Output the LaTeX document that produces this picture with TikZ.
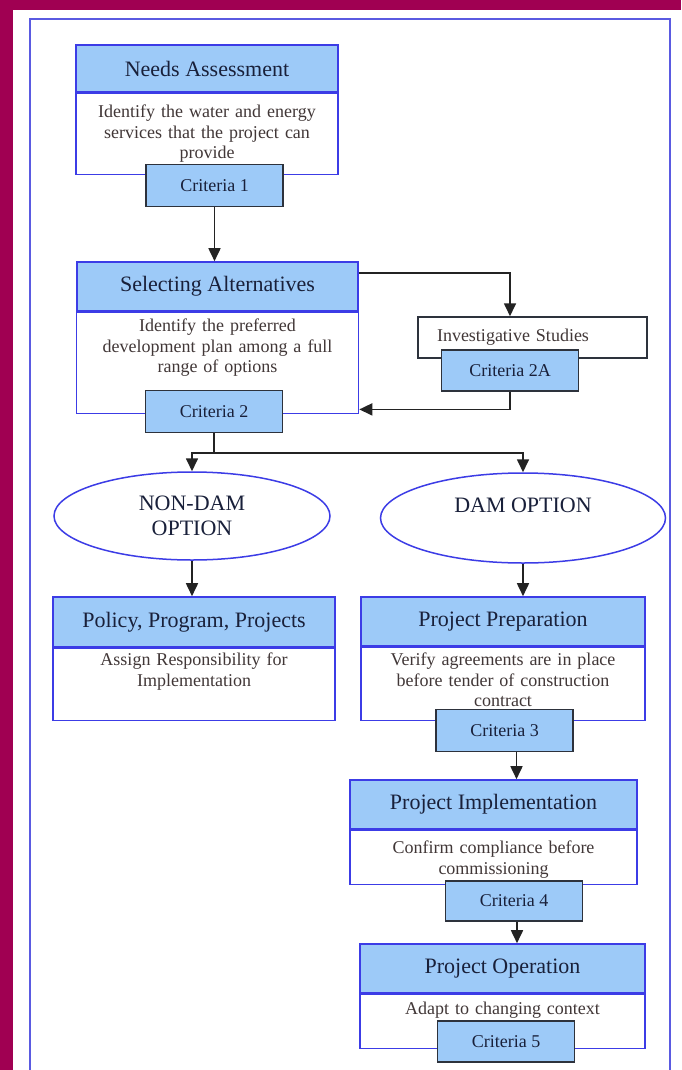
\documentclass[tikz,border=0pt]{standalone}
\usepackage{fontspec}
\setmainfont{Liberation Serif}
\usetikzlibrary{shapes.geometric,positioning,arrows.meta}

\definecolor{pagebg}{RGB}{160,0,82}
\definecolor{panelblue}{RGB}{90,90,225}
\definecolor{headfill}{RGB}{157,202,248}
\definecolor{headline}{RGB}{60,60,230}
\definecolor{critline}{RGB}{45,50,60}
\definecolor{headtext}{RGB}{25,32,58}
\definecolor{bodytext}{RGB}{65,55,55}
\definecolor{arrowgray}{RGB}{35,35,35}

\begin{document}
\begin{tikzpicture}[x=1pt, y=-1pt,
  >={Triangle[length=13pt,width=12pt]},
  head/.style={draw=headline, line width=1.6pt, fill=headfill, text=headtext, font=\fontsize{22pt}{25pt}\selectfont, inner sep=0pt},
  body/.style={draw=headline, line width=1.6pt, fill=white, text=bodytext, font=\fontsize{18pt}{20.5pt}\selectfont, align=center, inner xsep=0pt, text height=12pt},
  crit/.style={draw=critline, line width=1.6pt, fill=headfill, text=headtext, font=\fontsize{18pt}{20pt}\selectfont, minimum width=137pt, minimum height=42pt, inner sep=0pt},
  studybox/.style={draw=critline, line width=1.5pt, fill=white, text=bodytext, font=\fontsize{18pt}{20pt}\selectfont, minimum width=229pt, minimum height=41pt, inner xsep=19pt, text width=191pt, align=left},
  option/.style={draw=headline, line width=1.5pt, fill=white, ellipse, text=headtext, font=\fontsize{22pt}{25pt}\selectfont, align=center, inner sep=0pt},
  link/.style={draw=arrowgray, line width=1.7pt}]
\useasboundingbox (0,0) rectangle (681,1070);
\fill[pagebg] (0,0) rectangle (681,1070);
\fill[white] (13,10) rectangle (681,1070);
\draw[panelblue, line width=1.8pt] (30,1070) |- (670,19) -- (670,1070);

\node[head, minimum width=262pt, minimum height=47pt] at (207,68.5) (nahead) {Needs Assessment};
\node[body, below=0pt of nahead, text width=262pt, inner ysep=12pt, text depth=45pt] (nabody) {Identify the water and energy\\services that the project can\\provide};
\node[crit] at (214.5,185.5) (crit1) {Criteria 1};

\node[head, minimum width=281pt, minimum height=49pt] at (217.5,286.5) (sahead) {Selecting Alternatives};
\node[body, below=0pt of sahead, text width=282pt, inner ysep=7pt, text depth=75pt] (sabody) {Identify the preferred\\development plan among a full\\range of options};
\node[crit] at (214,411.5) (crit2) {Criteria 2};

\node[studybox] at (532.5,337.5) (invstudy) {Investigative Studies};
\node[crit, minimum height=41pt] at (510,370.5) (crit2a) {Criteria 2A};

\node[option, minimum width=276pt, minimum height=88pt] at (192,516) (nondam) {NON-DAM\\OPTION};
\node[option, minimum width=285pt, minimum height=90pt] at (523,518) (dam) {DAM OPTION\\~};

\node[head, minimum width=282pt, minimum height=50pt] at (194,622) (polhead) {Policy, Program, Projects};
\node[body, below=0pt of polhead, text width=282pt, inner ysep=5pt, text depth=50pt] (polbody) {Assign Responsibility for\\Implementation};

\node[head, minimum width=284pt, minimum height=49pt] at (503,621.5) (pphead) {Project Preparation};
\node[body, below=0pt of pphead, text width=284pt, inner ysep=6pt, text depth=49pt] (ppbody) {Verify agreements are in place\\before tender of construction\\contract};
\node[crit] at (504.5,730.5) (crit3) {Criteria 3};

\node[head, minimum width=287pt, minimum height=49pt] at (493.5,804.5) (pihead) {Project Implementation};
\node[body, below=0pt of pihead, text width=287pt, inner ysep=11pt, text depth=20pt] (pibody) {Confirm compliance before\\commissioning};
\node[crit, minimum height=40pt] at (514,901) (crit4) {Criteria 4};

\node[head, minimum width=285pt, minimum height=49pt] at (502.5,968.5) (pohead) {Project Operation};
\node[body, below=0pt of pohead, text width=285pt, inner ysep=8pt, text depth=26pt] (pobody) {Adapt to changing context};
\node[crit, minimum height=41pt] at (506,1041.5) (crit5) {Criteria 5};

\coordinate (fork) at (217,453);
\draw[link, ->] (crit1.south) -- (crit1.south |- sahead.north);
\draw[link, ->] ([yshift=13.5pt]sahead.east) -| (crit2a.north |- invstudy.north);
\draw[link, ->] (crit2a.south) |- ([yshift=5pt]sabody.south east);
\draw[link] (crit2.south) -- (crit2.south |- fork);
\draw[link, ->] (crit2.south |- fork) -| (nondam.north);
\draw[link, ->] (crit2.south |- fork) -| (dam.north);
\draw[link, ->] (nondam.south) -- (nondam.south |- polhead.north);
\draw[link, ->] (dam.south) -- (dam.south |- pphead.north);
\draw[link, ->] ([xshift=12pt]crit3.south) -- ([xshift=12pt]crit3.south |- pihead.north);
\draw[link, ->] ([xshift=3pt]crit4.south) -- ([xshift=3pt]crit4.south |- pohead.north);
\end{tikzpicture}
\end{document}
